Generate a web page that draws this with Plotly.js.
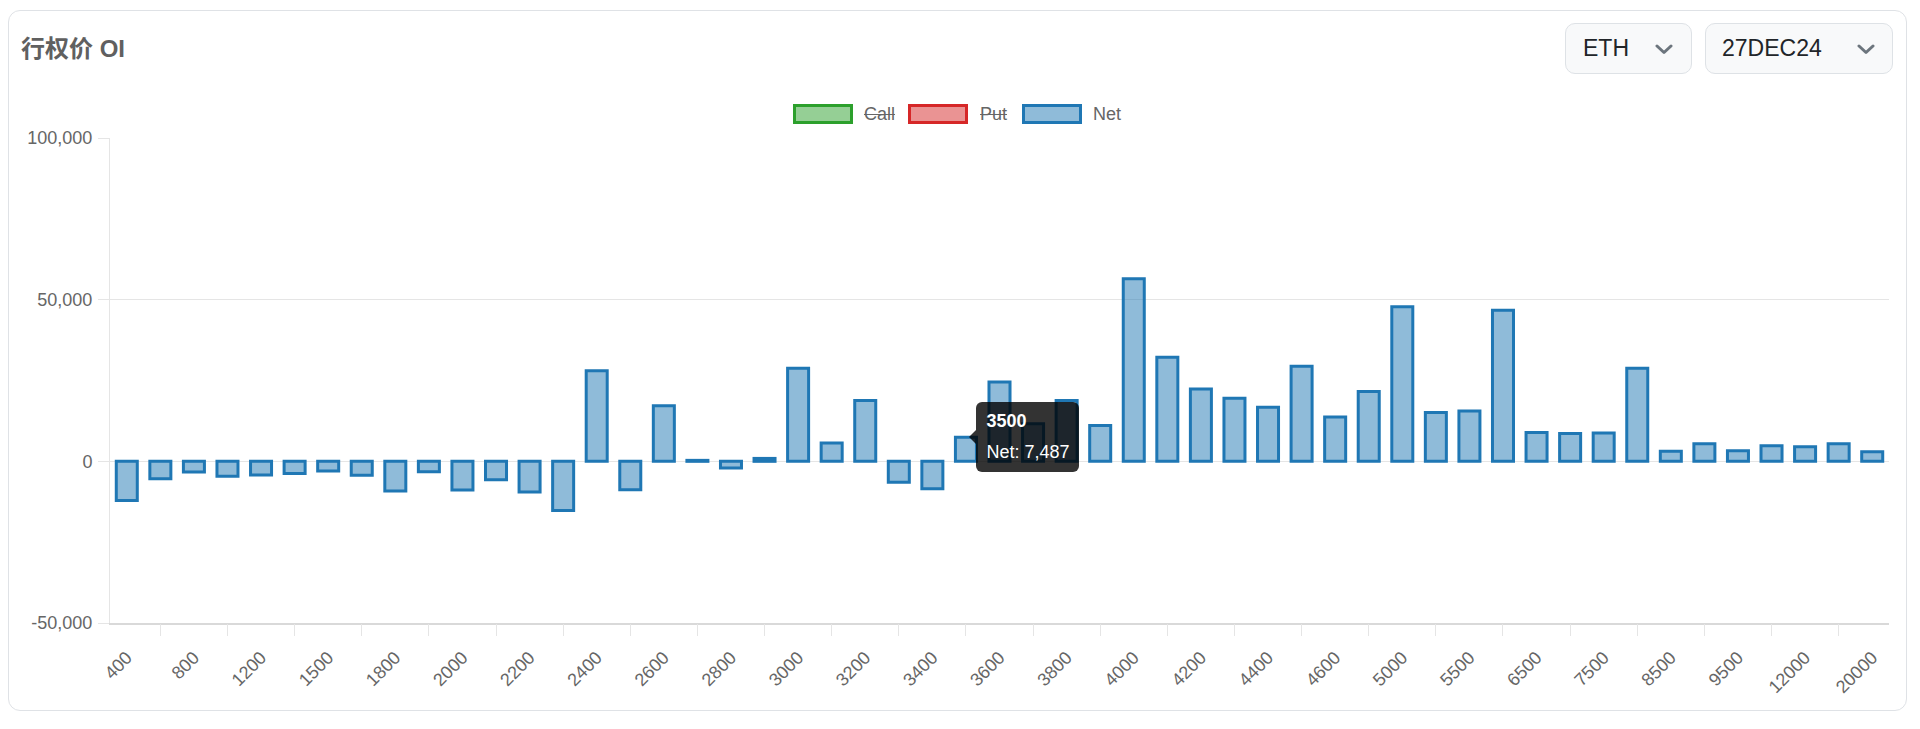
<!DOCTYPE html>
<html>
<head>
<meta charset="utf-8">
<script src="https://cdn.plot.ly/plotly-3.0.1.min.js"></script>
<style>
  html, body { margin:0; padding:0; width:1920px; height:729px; overflow:hidden; background:#fff;
    font-family:"Liberation Sans", Arial, "Noto Sans CJK SC", sans-serif; }
  #card { position:absolute; left:8px; top:10px; width:1899px; height:701px; box-sizing:border-box;
    border:1.5px solid #dfe2e6; border-radius:12px; background:#fff; z-index:0; }
  #chart { position:absolute; left:0; top:0; width:1920px; height:729px; z-index:1; }
  #title { position:absolute; left:21px; top:34px; font-size:24px; line-height:30px; font-weight:600;
    color:#606060; z-index:2; white-space:nowrap; font-family:"Liberation Sans", Arial, "Noto Sans CJK SC", sans-serif; }
  .sel { position:absolute; top:23px; height:51px; box-sizing:border-box; border:1.5px solid #dee2e6;
    border-radius:10px; background:#f8f9fa; z-index:2; }
  .sel span { position:absolute; top:0; line-height:48px; font-size:23px; color:#212529; }
  .sel svg { position:absolute; top:20px; }
  .legbox { position:absolute; top:104px; width:60px; height:20px; box-sizing:border-box; border:3px solid; z-index:2; }
  .legtxt { position:absolute; top:103px; font-size:18px; line-height:22px; color:#666; z-index:2; white-space:nowrap; }
  #tip { position:absolute; z-index:3; background:rgba(0,0,0,0.8); color:#fff; border-radius:6px;
    padding:9px 10px 9px 10px; font-size:18px; line-height:21.6px; white-space:nowrap; }
  #tip .t { font-weight:bold; margin-bottom:9.6px; }
  #caret { position:absolute; z-index:3; width:0; height:0; border-top:7.5px solid transparent;
    border-bottom:7.5px solid transparent; border-right:7.5px solid rgba(0,0,0,0.8); }
</style>
</head>
<body>
<div id="card"></div>
<div id="chart"></div>
<div id="title">行权价 OI</div>
<div class="sel" style="left:1565px;width:127px;">
  <span style="left:17px;">ETH</span>
  <svg style="left:89px;" width="18" height="11" viewBox="0 0 18 11"><polyline points="2,2 9,8.5 16,2" fill="none" stroke="#6c757d" stroke-width="3" stroke-linecap="round" stroke-linejoin="round"/></svg>
</div>
<div class="sel" style="left:1705px;width:188px;">
  <span style="left:16px;">27DEC24</span>
  <svg style="left:151px;" width="18" height="11" viewBox="0 0 18 11"><polyline points="2,2 9,8.5 16,2" fill="none" stroke="#6c757d" stroke-width="3" stroke-linecap="round" stroke-linejoin="round"/></svg>
</div>
<div id="legend"></div>
<div id="caret"></div>
<div id="tip"></div>
<script>
// ---- data ----
const strikes = ['400','600','800','1000','1200','1400','1500','1600','1800','1900',
  '2000','2100','2200','2300','2400','2500','2600','2700','2800','2900',
  '3000','3100','3200','3300','3400','3500','3600','3700','3800','3900',
  '4000','4100','4200','4300','4400','4500','4600','4800','5000','5200',
  '5500','6000','6500','7000','7500','8000','8500','9000','9500','10000',
  '12000','15000','20000'];
const net = [-12100,-5400,-3300,-4600,-4200,-3800,-3000,-4300,-9200,-3200,
  -8900,-5700,-9500,-15200,28000,-8800,17200,300,-2100,900,
  28800,5700,18800,-6500,-8500,7487,24500,11600,18800,11100,
  56500,32200,22400,19500,16700,29400,13700,21600,47800,15100,
  15600,46700,8900,8600,8800,28800,3100,5400,3300,4800,
  4500,5400,3000];
const seriesNames = ['Call','Put','Net'];
const seriesHidden = [true,true,false];
const yTicks = [-50000,0,50000,100000];
const tooltipStrike = '3500';

// ---- styles ----
const seriesBorder = ['#2ca02c','#d62728','#1f77b4'];
const seriesFill = ['rgba(44,160,44,0.5)','rgba(214,39,40,0.5)','rgba(31,119,180,0.5)'];

// legend (HTML)
const legBoxLeft = [793,908,1022];
const legTxtLeft = [864,980,1093];
const legEl = document.getElementById('legend');
seriesNames.forEach((n,i)=>{
  const b = document.createElement('div');
  b.className='legbox';
  b.style.left = legBoxLeft[i]+'px';
  b.style.borderColor = seriesBorder[i];
  b.style.background = seriesFill[i];
  legEl.appendChild(b);
  const t = document.createElement('div');
  t.className='legtxt';
  t.style.left = legTxtLeft[i]+'px';
  t.textContent = n;
  if (seriesHidden[i]) t.style.textDecoration='line-through';
  legEl.appendChild(t);
});

const labelStrikes = strikes.filter((s,i)=>i%2===0);
const oddIdx = strikes.map((s,i)=>i).filter(i=>i%2===1);
const nCat = strikes.length;

const data = [{
  type:'bar', x:strikes, y:net, name:'Net',
  marker:{color:seriesFill[2], line:{color:seriesBorder[2], width:3}},
  hoverinfo:'skip'
}, {
  // carrier for the between-label tick marks axis (draws nothing)
  type:'scatter', mode:'none', x:oddIdx, y:oddIdx.map(()=>null),
  xaxis:'x2', yaxis:'y', hoverinfo:'skip', showlegend:false
}];

const layout = {
  width:1920, height:729,
  margin:{l:110, r:31, t:138, b:106, pad:0},
  paper_bgcolor:'rgba(0,0,0,0)', plot_bgcolor:'rgba(0,0,0,0)',
  font:{family:'Liberation Sans, Arial, sans-serif', size:18, color:'#666'},
  showlegend:false,
  bargap:0.374,
  xaxis:{type:'category', categoryorder:'array', categoryarray:strikes,
    range:[-0.5, nCat-0.5], tickmode:'array', tickvals:labelStrikes, ticktext:labelStrikes,
    tickangle:-45, ticks:'', showgrid:false, zeroline:false,
    showline:true, linecolor:'#d9d9d9', linewidth:2, ticklabelstandoff:15,
    tickfont:{size:18, color:'#666'}},
  xaxis2:{overlaying:'x', anchor:'y', side:'bottom', type:'linear', range:[-0.5, nCat-0.5],
    tickmode:'array', tickvals:oddIdx, ticks:'outside', ticklen:12, tickcolor:'#e5e5e5', tickwidth:1,
    showticklabels:false, showgrid:false, zeroline:false, showline:false},
  yaxis:{range:[yTicks[0], yTicks[yTicks.length-1]], tickmode:'array', tickvals:yTicks,
    ticktext:yTicks.map(v=>v.toLocaleString('en-US')),
    ticks:'outside', ticklen:11, tickcolor:'#e5e5e5', tickwidth:1,
    showgrid:true, gridcolor:'#e5e5e5', gridwidth:1,
    zeroline:true, zerolinecolor:'#e5e5e5', zerolinewidth:1,
    showline:true, linecolor:'#e5e5e5', linewidth:1, ticklabelstandoff:2,
    tickfont:{size:18, color:'#666'}}
};

const gd = document.getElementById('chart');
Plotly.newPlot(gd, data, layout, {staticPlot:true, displayModeBar:false}).then(()=>{
  const idx = strikes.indexOf(tooltipStrike);
  const xa = gd._fullLayout.xaxis, ya = gd._fullLayout.yaxis;
  const px = xa._offset + xa.l2p(idx);
  const py = ya._offset + ya.l2p(net[idx]);
  const tip = document.getElementById('tip');
  tip.innerHTML = '<div class="t"></div><div class="b"></div>';
  tip.querySelector('.t').textContent = strikes[idx];
  tip.querySelector('.b').textContent = 'Net: ' + net[idx].toLocaleString('en-US');
  const tipX = px + 3;
  const caret = document.getElementById('caret');
  caret.style.left = tipX + 'px';
  caret.style.top = (py - 7.5) + 'px';
  tip.style.left = (tipX + 7.5) + 'px';
  const h = tip.offsetHeight;
  tip.style.top = (py - h/2) + 'px';
});
</script>
</body>
</html>
